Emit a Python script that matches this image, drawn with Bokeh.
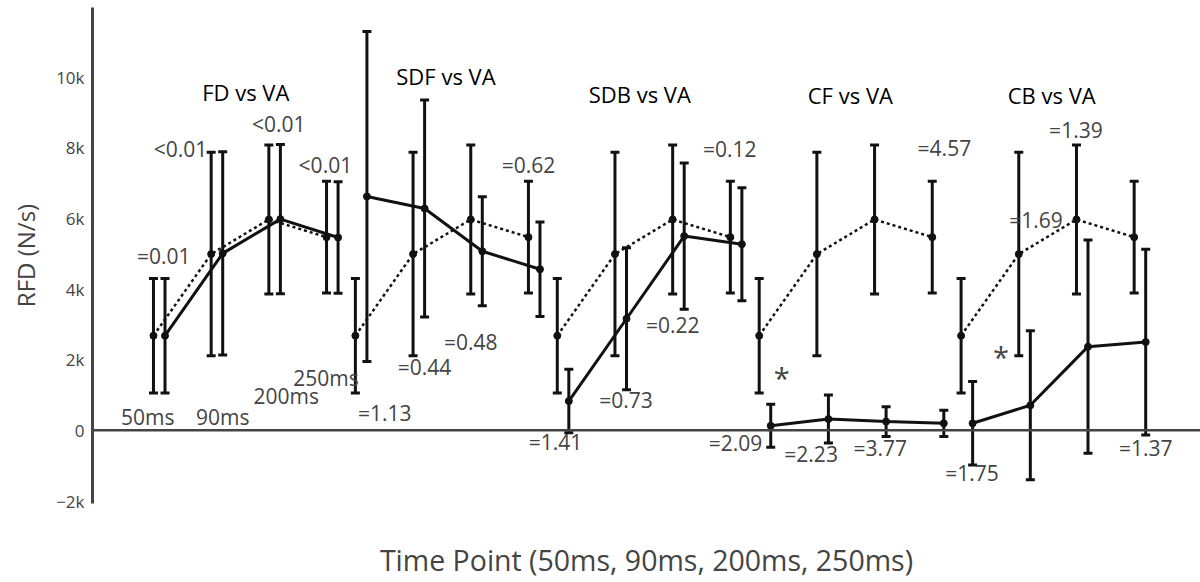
from bokeh.plotting import figure
from bokeh.models import (ColumnDataSource, Whisker, TeeHead, Range1d, FixedTicker, Span)
from bokeh.core.properties import value
from bokeh.embed import file_html
from bokeh.resources import INLINE

# ---------------- data ----------------
time_labels = ["50ms", "90ms", "200ms", "250ms"]
groups = ["FD", "SDF", "SDB", "CF", "CB"]

# VA (reference condition, dotted) - same in every panel
va_mean = [2680, 4990, 5970, 5470]
va_err = [1620, 2880, 2110, 1580]

# comparison conditions (solid)
fd_mean = [2680, 5010, 5980, 5460]
fd_err = [1620, 2880, 2110, 1580]
sdf_mean = [6620, 6280, 5070, 4560]
sdf_err = [4670, 3070, 1540, 1340]
sdb_mean = [830, 3160, 5500, 5270]
sdb_err = [900, 2010, 2070, 1600]
cf_mean = [130, 320, 250, 200]
cf_err = [610, 680, 420, 370]
cb_mean = [200, 710, 2370, 2500]
cb_err = [1180, 2110, 3020, 2630]

cmp_means = [fd_mean, sdf_mean, sdb_mean, cf_mean, cb_mean]
cmp_errs = [fd_err, sdf_err, sdb_err, cf_err, cb_err]

group_titles = ["FD vs VA", "SDF vs VA", "SDB vs VA", "CF vs VA", "CB vs VA"]
title_x = [1.60, 5.07, 8.43, 12.08, 15.57]
title_y = [9580, 10020, 9530, 9500, 9500]

ann_text = ["=0.01", "<0.01", "<0.01", "<0.01",
            "50ms", "90ms", "200ms", "250ms",
            "=1.13", "=0.44", "=0.48", "=0.62",
            "=1.41", "=0.73", "=0.22", "=0.12",
            "=2.09", "=2.23", "=3.77", "=4.57",
            "=1.75", "=1.69", "=1.39", "=1.37"]
ann_x = [0.18, 0.47, 2.17, 2.98,
         -0.10, 1.20, 2.30, 2.99,
         4.01, 4.70, 5.50, 6.50,
         6.97, 8.19, 9.00, 9.99,
         10.09, 11.40, 12.60, 13.71,
         14.19, 15.30, 15.99, 17.20]
ann_y = [4950, 7970, 8680, 7500,
         390, 390, 980, 1480,
         500, 1780, 2500, 7500,
         -340, 870, 2970, 7970,
         -350, -680, -490, 7980,
         -1210, 5960, 8510, -490]

star_x = [10.89, 14.69]
star_y = [1510, 2080]

y_ticks = [-2000, 0, 2000, 4000, 6000, 8000, 10000]
y_tick_labels = ["\u22122k", "0", "2k", "4k", "6k", "8k", "10k"]

GROUP_STEP = 3.5
CMP_OFFSET = 0.2

# ---------------- figure ----------------
p = figure(width=1200, height=582, output_backend="svg", toolbar_location=None,
           x_range=Range1d(-1.057, 18.15), y_range=Range1d(-2070, 11970),
           min_border_left=92, min_border_right=0, min_border_top=7,
           min_border_bottom=79)
p.outline_line_color = None
p.xgrid.visible = False
p.ygrid.visible = False
p.background_fill_color = "white"
p.border_fill_color = "white"

FONT = "Open Sans"
GRAY = "#444444"

# y axis
p.yaxis.ticker = FixedTicker(ticks=y_ticks)
p.yaxis.major_label_overrides = {t: l for t, l in zip(y_ticks, y_tick_labels)}
p.yaxis.axis_line_color = GRAY
p.yaxis.axis_line_width = 3
p.yaxis.major_tick_line_color = None
p.yaxis.minor_tick_line_color = None
p.yaxis.major_label_text_font = FONT
p.yaxis.major_label_text_font_size = "17px"
p.yaxis.major_label_text_color = GRAY
p.yaxis.major_label_standoff = 2
p.yaxis.axis_label = "RFD (N/s)"
p.yaxis.axis_label_text_font = FONT
p.yaxis.axis_label_text_font_size = "24px"
p.yaxis.axis_label_text_font_style = "normal"
p.yaxis.axis_label_text_color = GRAY
p.yaxis.axis_label_standoff = 11

# x axis (title only)
p.xaxis.ticker = FixedTicker(ticks=[])
p.xaxis.axis_line_color = None
p.xaxis.major_tick_line_color = None
p.xaxis.minor_tick_line_color = None
p.xaxis.major_label_text_font_size = "0px"
p.xaxis.axis_label = "Time Point (50ms, 90ms, 200ms, 250ms)"
p.xaxis.axis_label_text_font = FONT
p.xaxis.axis_label_text_font_size = "28.5px"
p.xaxis.axis_label_text_font_style = "normal"
p.xaxis.axis_label_text_color = GRAY
p.xaxis.axis_label_standoff = 37

# zero line
p.add_layout(Span(location=0, dimension="width", line_color=GRAY, line_width=2.5))

INK = "#111111"

def add_series(xs, means, errs, dash):
    src = ColumnDataSource(dict(
        x=xs, y=means,
        upper=[m + e for m, e in zip(means, errs)],
        lower=[m - e for m, e in zip(means, errs)]))
    w = Whisker(base="x", upper="upper", lower="lower", source=src,
                line_color=INK, line_width=3,
                upper_head=TeeHead(size=9, line_color=INK, line_width=3),
                lower_head=TeeHead(size=9, line_color=INK, line_width=3))
    p.add_layout(w)
    if dash:
        p.line("x", "y", source=src, line_color=INK, line_width=2.5, line_dash="3 3")
    else:
        p.line("x", "y", source=src, line_color=INK, line_width=3)
    p.scatter("x", "y", source=src, marker="circle", size=7,
              fill_color=INK, line_color=INK)

for g in range(len(groups)):
    base = g * GROUP_STEP
    xs_va = [base + i for i in range(len(time_labels))]
    xs_cmp = [base + i + CMP_OFFSET for i in range(len(time_labels))]
    add_series(xs_va, va_mean, va_err, True)
    add_series(xs_cmp, cmp_means[g], cmp_errs[g], False)

# group titles
p.text(x=title_x, y=title_y, text=group_titles, text_font=value(FONT),
       text_font_size="22px", text_color="black", text_align="center",
       text_baseline="middle")

# p-value / time annotations
p.text(x=ann_x, y=ann_y, text=ann_text, text_font=value(FONT),
       text_font_size="21px", text_color=GRAY, text_align="center",
       text_baseline="middle")

# significance stars
p.text(x=star_x, y=star_y, text=["*", "*"], text_font=value(FONT),
       text_font_size="29px", text_color=GRAY, text_align="center",
       text_baseline="middle")

open("out.html", "w").write(file_html(p, INLINE))
